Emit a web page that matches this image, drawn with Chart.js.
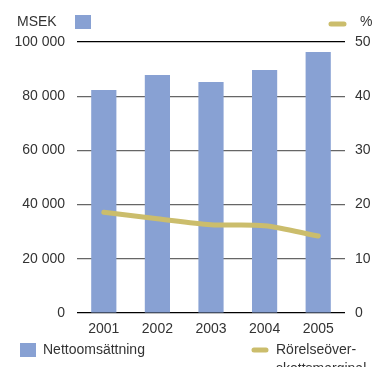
<!DOCTYPE html>
<html>
<head>
<meta charset="utf-8">
<script src="https://cdn.jsdelivr.net/npm/chart.js@4"></script>
<style>
  html, body { margin: 0; padding: 0; background: #fff; }
  #wrap { width: 375px; height: 367px; position: relative; }
</style>
</head>
<body>
<div id="wrap"><canvas id="chart" width="375" height="367"></canvas></div>
<script>
const years = ["2001", "2002", "2003", "2004", "2005"];
const nettoomsattning = [82300, 87800, 85200, 89700, 96300];
const marginal = [18.6, 17.4, 16.3, 16.1, 14.2];

const barColor = '#88a1d3';
const lineColor = '#cbbd6c';
const textColor = '#333';
const font = { family: 'Liberation Sans, Arial, sans-serif', size: 14 };

// legend and unit labels drawn straight onto the canvas
const decorations = {
    id: 'decorations',
    afterDraw(chart) {
        const c = chart.ctx;
        c.save();
        c.font = '14px Liberation Sans, Arial, sans-serif';
        c.fillStyle = textColor;
        c.textBaseline = 'middle';
        c.textAlign = 'left';
        c.fillText('MSEK', 17, 22);
        c.fillText('%', 360, 22);
        c.fillText('Nettoomsättning', 43, 350);
        c.fillText('Rörelseöver-', 276, 350);
        c.fillText('skottsmarginal', 276, 369);

        c.fillStyle = barColor;
        c.fillRect(75, 15, 16, 14);
        c.fillRect(20, 343, 16, 14);

        c.strokeStyle = lineColor;
        c.lineWidth = 5;
        c.lineCap = 'round';
        c.beginPath();
        c.moveTo(331, 24); c.lineTo(344, 24);
        c.moveTo(254, 350); c.lineTo(266, 350);
        c.stroke();
        c.restore();
    }
};

new Chart(document.getElementById('chart'), {
    type: 'bar',
    data: {
        labels: years,
        datasets: [{
            type: 'line',
            label: 'Rörelseöverskottsmarginal',
            data: marginal,
            yAxisID: 'y2',
            borderColor: lineColor,
            borderWidth: 5,
            borderCapStyle: 'round',
            pointRadius: 0,
            tension: 0.3,
            order: 0
        }, {
            label: 'Nettoomsättning',
            data: nettoomsattning,
            yAxisID: 'y',
            backgroundColor: barColor,
            barPercentage: 0.47,
            categoryPercentage: 1,
            order: 1
        }]
    },
    options: {
        responsive: false,
        animation: false,
        layout: { padding: { top: 42, left: 0, right: 0, bottom: 0 } },
        plugins: { legend: { display: false }, tooltip: { enabled: false } },
        scales: {
            x: {
                grid: { display: false },
                border: { display: false },
                ticks: { color: textColor, font: font, padding: 0 },
                afterFit(s) { s.height = 54; }
            },
            y: {
                position: 'left',
                min: 0, max: 100000,
                border: { display: false },
                grid: {
                    drawTicks: false,
                    lineWidth: 1.2,
                    color: ctx => (ctx.tick.value === 0 || ctx.tick.value === 100000) ? '#000' : '#666'
                },
                ticks: {
                    stepSize: 20000,
                    color: textColor,
                    font: font,
                    padding: 12,
                    callback: v => v.toLocaleString('sv-SE').replace(/\s/g, ' ')
                },
                afterFit(s) { s.width = 77; }
            },
            y2: {
                position: 'right',
                min: 0, max: 50,
                border: { display: false },
                grid: { display: false, drawTicks: false },
                ticks: { stepSize: 10, color: textColor, font: font, padding: 10 },
                afterFit(s) { s.width = 30; }
            }
        }
    },
    plugins: [decorations]
});
</script>
</body>
</html>
